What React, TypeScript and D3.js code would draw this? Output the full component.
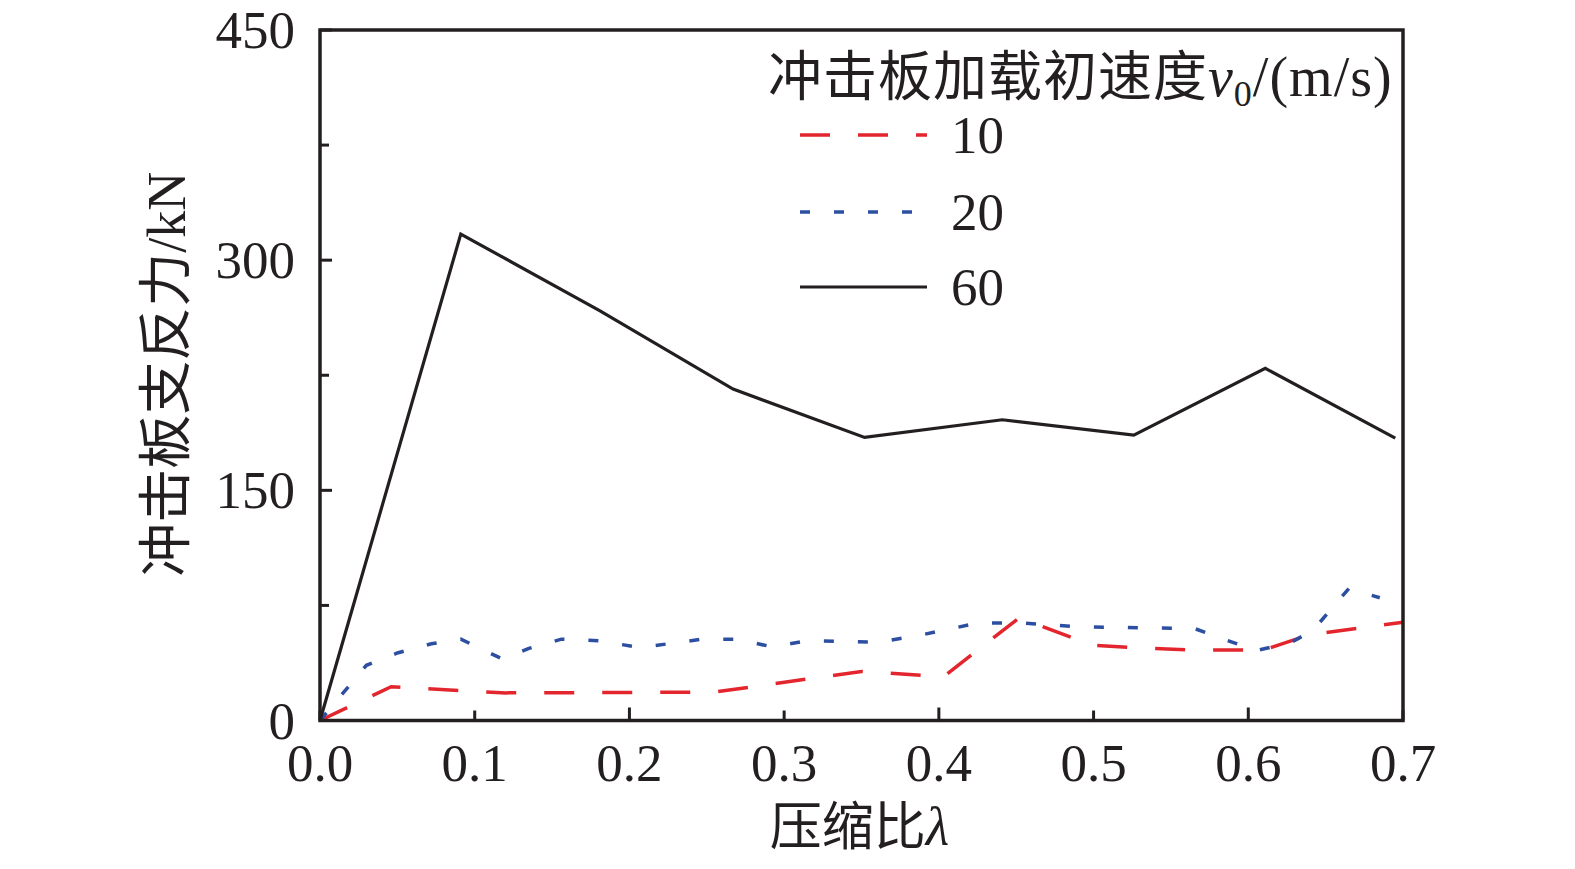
import React from 'react';
import * as d3 from 'd3';

// compression ratio (x) and support reaction force in kN (y) for each loading speed
const lambda10 = [0, 0.046, 0.09, 0.12, 0.255, 0.35, 0.403, 0.452, 0.499, 0.525, 0.56, 0.61, 0.64, 0.7];
const force10 = [0, 22, 19.5, 18, 18.5, 32, 28.5, 67, 49, 47.5, 46, 46, 56, 64];

const lambda20 = [
  0, 0.03, 0.05, 0.072, 0.091, 0.118, 0.135, 0.156, 0.18, 0.207, 0.225, 0.247, 0.27, 0.292, 0.315,
  0.36, 0.385, 0.425, 0.455, 0.49, 0.565, 0.605, 0.628, 0.642, 0.665, 0.685,
];
const force20 = [
  0, 36, 44, 50, 53, 40, 47, 53, 52, 47.5, 50, 53, 53, 48, 52,
  51, 55, 63.5, 63.5, 61, 60, 45.5, 51, 59, 86, 80,
];

const lambda60 = [0, 0.091, 0.181, 0.267, 0.352, 0.441, 0.526, 0.611, 0.695];
const force60 = [0, 317, 267, 216, 184.5, 196, 186, 229.5, 184];

const xTicks = [0, 0.1, 0.2, 0.3, 0.4, 0.5, 0.6, 0.7];
const xLongTicks = [0.2, 0.4, 0.6];
const yTicks = [0, 75, 150, 225, 300, 375, 450];
const yLabelTicks = [0, 150, 300, 450];
const legendLabels = ['10', '20', '60'];

const W = 1575;
const H = 869;
const margin = { top: 30, right: 172, bottom: 148.5, left: 320 };

const serif = "'Liberation Serif', 'Times New Roman', 'Noto Sans CJK SC', serif";
const ink = '#231f20';

export default function App() {
  const x = d3
    .scaleLinear()
    .domain([0, 0.7])
    .range([margin.left, W - margin.right]);
  const y = d3
    .scaleLinear()
    .domain([0, 450])
    .range([H - margin.bottom, margin.top]);

  const line = d3
    .line<[number, number]>()
    .x((d) => x(d[0]))
    .y((d) => y(d[1]));

  const series = [
    { xs: lambda10, ys: force10, color: '#e3262e', dash: '30 28', width: 3.5 },
    { xs: lambda20, ys: force20, color: '#2d4fa2', dash: '10 24', width: 3.5 },
    { xs: lambda60, ys: force60, color: ink, dash: null, width: 3.2 },
  ];

  const x0 = x(0);
  const x1 = x(0.7);
  const y0 = y(0);
  const y1 = y(450);

  // legend placement
  const legX = 800;
  const legLen = 127;
  const legYs = [135, 212, 287];

  return (
    <svg
      width={W}
      height={H}
      style={{ position: 'absolute', left: 0, top: 0, background: '#fff' }}
      fontFamily={serif}
    >
      {/* data lines */}
      {series.map((s, i) => (
        <path
          key={i}
          d={line(s.xs.map((v, j) => [v, s.ys[j]] as [number, number])) || ''}
          fill="none"
          stroke={s.color}
          strokeWidth={s.width}
          strokeDasharray={s.dash || undefined}
          strokeLinejoin="miter"
        />
      ))}

      {/* frame */}
      <rect
        x={x0}
        y={y1}
        width={x1 - x0}
        height={y0 - y1}
        fill="none"
        stroke={ink}
        strokeWidth={3.5}
      />

      {/* x ticks */}
      {xTicks.map((t) => (
        <g key={`xt${t}`}>
          <line
            x1={x(t)}
            x2={x(t)}
            y1={y0}
            y2={y0 - (xLongTicks.includes(t) ? 13 : 10)}
            stroke={ink}
            strokeWidth={3}
          />
          <text x={x(t)} y={y0 + 60} fontSize={53} textAnchor="middle" fill={ink}>
            {d3.format('.1f')(t)}
          </text>
        </g>
      ))}

      {/* y ticks */}
      {yTicks.map((t) => (
        <line
          key={`yt${t}`}
          x1={x0}
          x2={x0 + (yLabelTicks.includes(t) ? 12 : 9)}
          y1={y(t)}
          y2={y(t)}
          stroke={ink}
          strokeWidth={3}
        />
      ))}
      {yLabelTicks.map((t) => (
        <text
          key={`yl${t}`}
          x={x0 - 25}
          y={y(t) + 18}
          fontSize={53}
          textAnchor="end"
          fill={ink}
        >
          {t}
        </text>
      ))}

      {/* axis titles */}
      <text
        x={(x0 + x1) / 2 - 2}
        y={845}
        fontSize={52}
        textAnchor="middle"
        fill={ink}
      >
        压缩比<tspan fontStyle="italic" fontSize={54}>λ</tspan>
      </text>
      <text
        transform={`translate(185, ${(y0 + y1) / 2 - 1}) rotate(-90)`}
        fontSize={54}
        textAnchor="middle"
        fill={ink}
      >
        冲击板支反力/kN
      </text>

      {/* legend */}
      <text x={768} y={96} fontSize={54} fill={ink} letterSpacing={1}>
        冲击板加载初速度
        <tspan fontStyle="italic" fontSize={56}>v</tspan>
        <tspan fontSize={36} dy={10}>0</tspan>
        <tspan dy={-10} fontSize={56}>/(m/s)</tspan>
      </text>
      {series.map((s, i) => (
        <g key={`lg${i}`}>
          <line
            x1={legX}
            x2={legX + legLen}
            y1={legYs[i]}
            y2={legYs[i]}
            stroke={s.color}
            strokeWidth={s.width}
            strokeDasharray={s.dash || undefined}
          />
          <text x={951} y={legYs[i] + 18} fontSize={53} fill={ink}>
            {legendLabels[i]}
          </text>
        </g>
      ))}
    </svg>
  );
}
